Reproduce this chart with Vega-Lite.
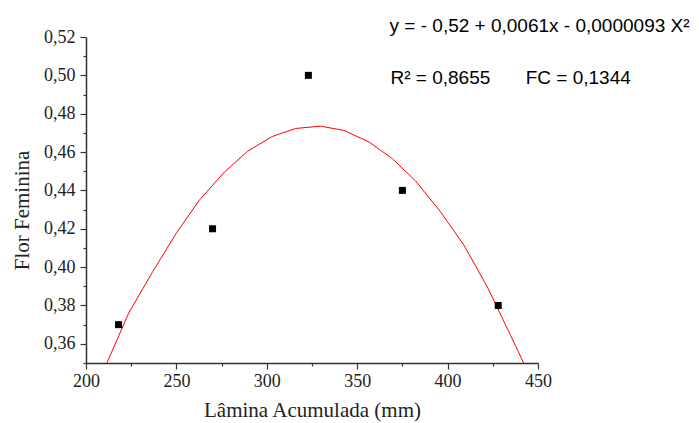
{
  "$schema": "https://vega.github.io/schema/vega-lite/v6.json",
  "width": 452,
  "height": 326,
  "autosize": {"type": "none"},
  "padding": {"left": 86, "top": 37, "right": 161, "bottom": 60},
  "background": "white",
  "config": {
    "view": {"stroke": null},
    "axis": {
      "grid": false,
      "domainColor": "#333333",
      "tickColor": "#333333",
      "labelColor": "#222222",
      "titleColor": "#222222",
      "labelFont": "Liberation Serif",
      "titleFont": "Liberation Serif",
      "labelFontSize": 18,
      "titleFontSize": 21,
      "titleFontWeight": "normal",
      "domainWidth": 1.5,
      "tickWidth": 1.2
    }
  },
  "datasets": {
    "obs": [
      {"x": 218, "y": 0.37},
      {"x": 270, "y": 0.42},
      {"x": 323, "y": 0.50},
      {"x": 375, "y": 0.44},
      {"x": 428, "y": 0.38}
    ],
    "fit": [
      {"x": 211.6, "y": 0.3501},
      {"x": 223.6, "y": 0.376},
      {"x": 236.5, "y": 0.397},
      {"x": 250.0, "y": 0.4178},
      {"x": 262.9, "y": 0.4352},
      {"x": 276.6, "y": 0.4496},
      {"x": 289.5, "y": 0.4605},
      {"x": 303.0, "y": 0.4681},
      {"x": 315.9, "y": 0.4723},
      {"x": 329.7, "y": 0.4735},
      {"x": 342.6, "y": 0.4713},
      {"x": 356.5, "y": 0.4653},
      {"x": 369.4, "y": 0.4566},
      {"x": 382.3, "y": 0.4449},
      {"x": 396.2, "y": 0.4287},
      {"x": 409.1, "y": 0.4113},
      {"x": 422.0, "y": 0.3896},
      {"x": 434.9, "y": 0.3643},
      {"x": 442.0, "y": 0.3501}
    ],
    "notes": [
      {"x": 367.9, "y": 0.5226, "label": "y = - 0,52 + 0,0061x - 0,0000093 X²"},
      {"x": 368.4, "y": 0.4954, "label": "R² = 0,8655"},
      {"x": 443.2, "y": 0.4954, "label": "FC = 0,1344"}
    ]
  },
  "layer": [
    {
      "data": {"name": "fit"},
      "mark": {"type": "line", "color": "#ff0000", "strokeWidth": 1},
      "encoding": {
        "x": {
          "field": "x", "type": "quantitative",
          "scale": {"domain": [200, 450], "nice": false, "zero": false},
          "axis": {"orient": "bottom", "title": "Lâmina Acumulada (mm)", "values": [200, 250, 300, 350, 400, 450], "tickSize": 6, "labelPadding": 3, "titlePadding": 9, "labelFlush": false, "labelOverlap": false}
        },
        "y": {
          "field": "y", "type": "quantitative",
          "scale": {"domain": [0.35, 0.52], "nice": false, "zero": false},
          "axis": {"orient": "left", "title": "Flor Feminina", "titleY": 173, "values": [0.36, 0.38, 0.40, 0.42, 0.44, 0.46, 0.48, 0.50, 0.52], "labelExpr": "replace(format(datum.value, '.2f'), '.', ',')", "tickSize": 6, "labelPadding": 5, "titlePadding": 11, "labelFlush": false, "labelOverlap": false}
        }
      }
    },
    {
      "data": {"name": "obs"},
      "mark": {"type": "square", "size": 49, "color": "black", "opacity": 1},
      "encoding": {
        "x": {
          "field": "x", "type": "quantitative",
          "axis": {"orient": "bottom", "title": null, "values": [225, 275, 325, 375, 425], "tickSize": 3, "labels": false, "domain": false}
        },
        "y": {
          "field": "y", "type": "quantitative",
          "axis": {"orient": "left", "title": null, "values": [0.35, 0.37, 0.39, 0.41, 0.43, 0.45, 0.47, 0.49, 0.51], "tickSize": 3, "labels": false, "domain": false}
        }
      }
    },
    {
      "data": {"name": "notes"},
      "mark": {"type": "text", "align": "left", "baseline": "alphabetic", "font": "Liberation Sans", "fontSize": 19, "color": "black"},
      "encoding": {
        "x": {"field": "x", "type": "quantitative", "axis": null},
        "y": {"field": "y", "type": "quantitative", "axis": null},
        "text": {"field": "label"}
      }
    }
  ],
  "resolve": {"axis": {"x": "independent", "y": "independent"}}
}
